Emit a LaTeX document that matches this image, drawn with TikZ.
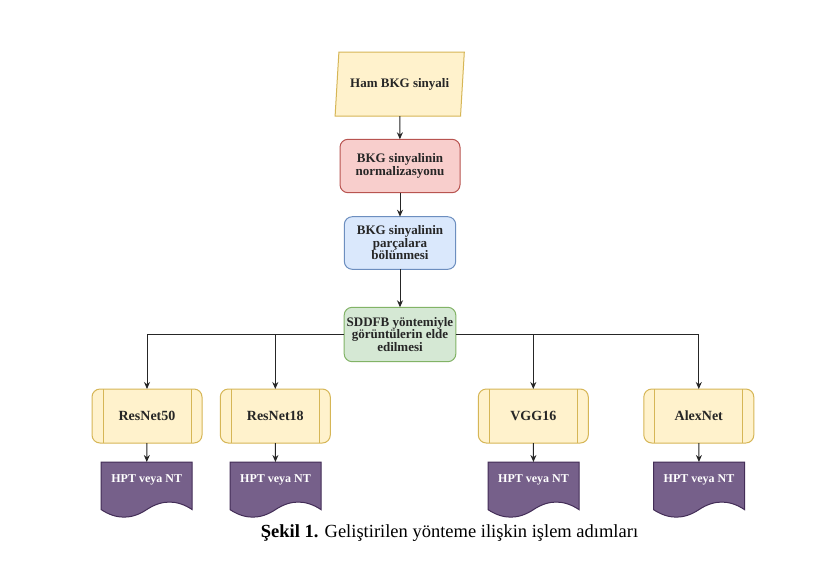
\documentclass[tikz,border=0pt]{standalone}
\usepackage{fontspec}
\setmainfont{Liberation Serif}
\usetikzlibrary{arrows.meta,shapes.geometric}
\definecolor{yfill}{HTML}{FFF2CC}
\definecolor{yline}{HTML}{D6B656}
\definecolor{rfill}{HTML}{F8CECC}
\definecolor{rline}{HTML}{B85450}
\definecolor{bfill}{HTML}{DAE8FC}
\definecolor{bline}{HTML}{6C8EBF}
\definecolor{gfill}{HTML}{D5E8D4}
\definecolor{gline}{HTML}{82B366}
\definecolor{pfill}{HTML}{76608A}
\definecolor{pline}{HTML}{432D57}
\tikzset{
  lbl/.style={font=\bfseries\fontsize{13}{12.5}\selectfont, align=center, text=black!85},
  roundbox/.style={lbl, rectangle, rounded corners=8pt, line width=1pt, outer sep=0pt, inner sep=1pt},
  procbox/.style={roundbox, font=\bfseries\fontsize{14}{14}\selectfont, fill=yfill, draw=yline, minimum width=110pt, minimum height=54pt},
  sidebar/.style={draw=yline, line width=1pt},
  doctext/.style={font=\bfseries\fontsize{12}{12}\selectfont, text=white, anchor=north,
     minimum width=91pt, text height=8pt, text depth=2pt, inner ysep=12pt, inner xsep=0pt, outer sep=0pt},
  docshape/.style={fill=pfill, draw=pline, line width=1pt},
  arr/.style={draw=black!85, line width=1pt, -{Stealth[length=7pt,width=6pt]}},
}
\newcommand{\hptdoc}[2]{%
  \path[docshape] ({#2-45.5},462) -- ({#2+45.5},462) -- ({#2+45.5},509.6)
     .. controls ({#2+30.33},499.52) and ({#2+15.17},499.52) .. ({#2},509.6)
     .. controls ({#2-15.17},519.68) and ({#2-30.33},519.68) .. ({#2-45.5},509.6) -- cycle;
  \node[doctext] (#1) at (#2,462) {HPT veya NT};
}
\begin{document}
\begin{tikzpicture}[x=1pt,y=-1pt]
\useasboundingbox[fill=white] (0,0) rectangle (816,560);

\node[lbl, trapezium, trapezium left angle=75.4, trapezium right angle=104.6,
      trapezium stretches=true, minimum width=129.3pt, minimum height=64pt,
      fill=yfill, draw=yline, line width=1pt, outer sep=0pt, inner sep=0pt] (ham) at (399.7,84.2) {Ham BKG sinyali};

\node[roundbox, fill=rfill, draw=rline, minimum width=120pt, minimum height=53.4pt] (norm) at (400,166) {BKG sinyalinin\\normalizasyonu};
\node[roundbox, fill=bfill, draw=bline, minimum width=111.4pt, minimum height=52.6pt] (parc) at (400,243) {BKG sinyalinin\\parçalara\\bölünmesi};
\node[roundbox, fill=gfill, draw=gline, minimum width=111.7pt, minimum height=54.4pt] (sddfb) at (400,334.5) {SDDFB yöntemiyle\\görüntülerin elde\\edilmesi};

\node[procbox] (r50) at (147,416) {ResNet50};
\node[procbox] (r18) at (275.3,416) {ResNet18};
\node[procbox] (vgg) at (533.3,416) {VGG16};
\node[procbox] (alex) at (698.8,416) {AlexNet};
\foreach \n in {r50,r18,vgg,alex}{
  \draw[sidebar] ([xshift=11pt]\n.north west) -- ([xshift=11pt]\n.south west);
  \draw[sidebar] ([xshift=-11pt]\n.north east) -- ([xshift=-11pt]\n.south east);
}

\hptdoc{d1}{146.7}
\hptdoc{d2}{275.5}
\hptdoc{d3}{533.5}
\hptdoc{d4}{699}

\draw[arr] (ham) -- (norm);
\draw[arr] (norm) -- (parc);
\draw[arr] (parc) -- (sddfb);
\draw[arr] (sddfb.west) -| (r50.north);
\draw[arr] (sddfb.west) -| (r18.north);
\draw[arr] (sddfb.east) -| (vgg.north);
\draw[arr] (sddfb.east) -| (alex.north);
\draw[arr] (r50) -- (d1);
\draw[arr] (r18) -- (d2);
\draw[arr] (vgg) -- (d3);
\draw[arr] (alex) -- (d4);

\node[font=\fontsize{18.5}{18.5}\selectfont] (cap) at (449.5,533) {\textbf{Şekil 1.} Geliştirilen yönteme ilişkin işlem adımları};
\end{tikzpicture}
\end{document}
